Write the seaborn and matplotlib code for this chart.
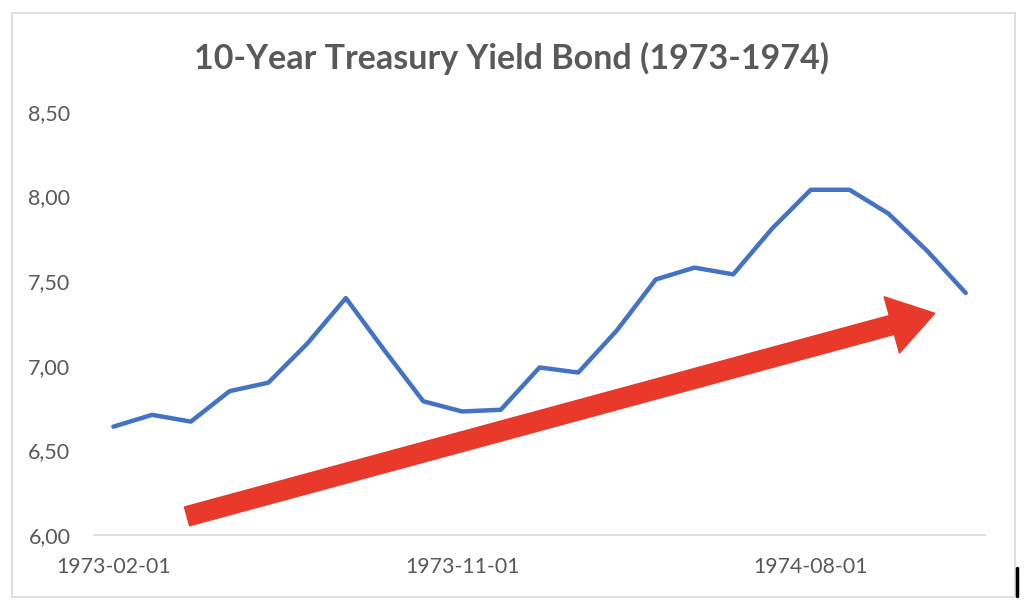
import matplotlib.pyplot as plt
from matplotlib.lines import Line2D
from matplotlib.patches import Rectangle
import pandas as pd
import seaborn as sns

# monthly 10-year yields, Feb 1973 .. Dec 1974
months = pd.date_range("1973-02-01", "1974-12-01", freq="MS").strftime("%Y-%m-%d").tolist()
yields = [6.64, 6.71, 6.67, 6.85, 6.90, 7.13, 7.40, 7.09, 6.79, 6.73, 6.74,
          6.99, 6.96, 7.21, 7.51, 7.58, 7.54, 7.81, 8.04, 8.04, 7.90, 7.68, 7.43]
shown_labels = ["1973-02-01", "1973-11-01", "1974-08-01"]
y_ticks = [6.0, 6.5, 7.0, 7.5, 8.0, 8.5]

# trend arrow (category index, yield)
arrow_start = (1.9, 6.11)
arrow_end = (21.2, 7.31)

df = pd.DataFrame({"idx": range(len(months)), "month": months, "yield": yields})

sns.set_theme(style="white")
plt.rcParams["font.family"] = ["Lato", "DejaVu Sans"]

grey_text = "#595959"
axis_grey = "#D9D9D9"

fig = plt.figure(figsize=(10.24, 6.14), dpi=100)
ax = fig.add_axes([0.0918, 0.1287, 0.8702, 0.689])

sns.lineplot(data=df, x="idx", y="yield", ax=ax, color="#4472C4", linewidth=3.2,
             solid_capstyle="round", solid_joinstyle="round")

ax.annotate("", xy=arrow_end, xytext=arrow_start,
            arrowprops=dict(arrowstyle="simple,head_length=1.6,head_width=2.1,tail_width=0.7",
                            color="#E8392B", mutation_scale=20, shrinkA=0, shrinkB=0))

ax.set_xlim(-0.5, len(months) - 0.5)
ax.set_ylim(6.0, 8.5)

label_pos = [months.index(m) for m in shown_labels]
ax.set_xticks(label_pos)
ax.set_xticklabels(shown_labels)
ax.set_xticks([p - 0.5 for p in label_pos], minor=True)
ax.tick_params(axis="x", which="major", length=0, pad=16, labelsize=15.3, labelcolor=grey_text)
ax.tick_params(axis="x", which="minor", length=7, width=1, color=axis_grey, direction="out")
ax.set_yticks(y_ticks)
ax.set_yticklabels([f"{v:.2f}".replace(".", ",") for v in y_ticks])
ax.tick_params(axis="y", length=0, pad=17, labelsize=15.5, labelcolor=grey_text)

for side in ["top", "right", "left"]:
    ax.spines[side].set_visible(False)
ax.spines["bottom"].set_color(axis_grey)
ax.spines["bottom"].set_linewidth(1.2)
ax.set_xlabel("")
ax.set_ylabel("")

fig.text(0.5, 0.905, "10-Year Treasury Yield Bond (1973-1974)", ha="center", va="center",
         fontsize=24.5, fontweight="bold", color=grey_text)

# outer chart frame
fig.add_artist(Rectangle((12 / 1024, 1 - 597 / 614), 1003 / 1024, 584 / 614,
                         transform=fig.transFigure, fill=False, edgecolor=axis_grey, linewidth=1.2))
fig.add_artist(Line2D([1017 / 1024, 1017 / 1024], [1 - 596 / 614, 1 - 568 / 614],
                      transform=fig.transFigure, color="black", linewidth=2.5))

fig.savefig("out.png", dpi=100)
